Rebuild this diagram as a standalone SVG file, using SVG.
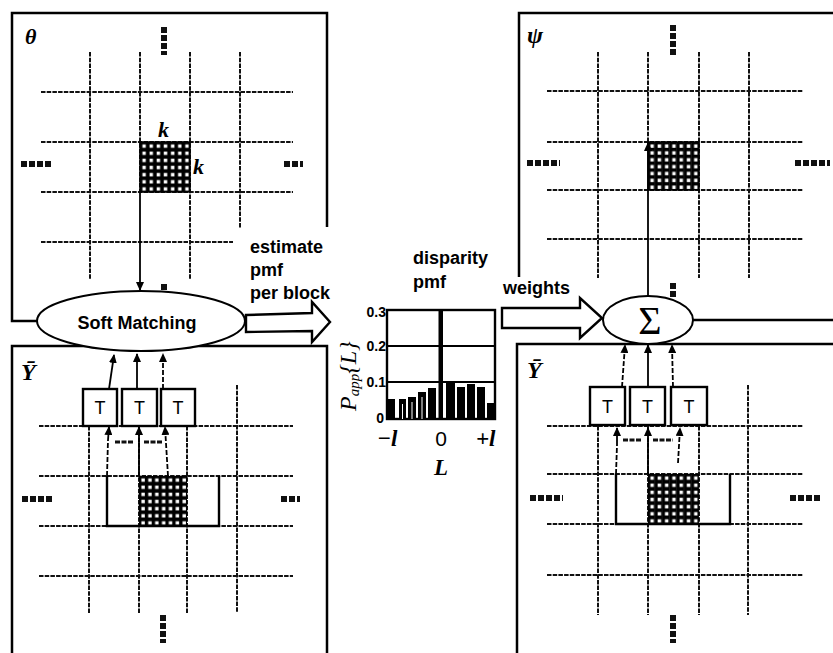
<svg xmlns="http://www.w3.org/2000/svg" width="833" height="653" viewBox="0 0 833 653">
<style>
.frame{fill:none;stroke:#000;stroke-width:2.5}
.g{stroke:#111;stroke-width:2;stroke-dasharray:4.5 1.2;fill:none}
.dots{stroke:#111;stroke-width:6;stroke-dasharray:6 2;fill:none}
.lbl{font-family:"Liberation Sans",Arial,sans-serif;font-weight:bold;font-size:18px;fill:#000}
.math{font-family:"Liberation Serif","Times New Roman",serif;font-style:italic;font-weight:bold;fill:#000}
.box{fill:#fff;stroke:#000;stroke-width:2.4}
.tt{font-family:"Liberation Sans",Arial,sans-serif;font-size:18px;fill:#000;text-anchor:middle}
.arr{stroke:#000;stroke-width:1.8;fill:none;marker-end:url(#ah)}
.arrd{stroke:#000;stroke-width:1.8;fill:none;stroke-dasharray:5 2;marker-end:url(#ah)}
.hatch{fill:url(#hp);stroke:#000;stroke-width:1.5}
.tick{font-family:"Liberation Sans",Arial,sans-serif;font-weight:bold;font-size:14px;fill:#000;text-anchor:end}
.ax{font-family:"Liberation Serif","Times New Roman",serif;font-style:italic;font-weight:bold;font-size:23px;fill:#000}
</style>
<defs>
<marker id="ah" markerWidth="9" markerHeight="8" refX="8" refY="4" orient="auto" markerUnits="userSpaceOnUse">
<path d="M0,0 L9,4 L0,8 z" fill="#000"/>
</marker>
<pattern id="hp" patternUnits="objectBoundingBox" width="0.142857" height="0.142857" patternContentUnits="userSpaceOnUse">
<rect x="0" y="0" width="7.2" height="7.2" fill="#000"/>
<rect x="2.4" y="2.4" width="3.4" height="3.4" fill="#fff"/>
</pattern>
</defs>
<rect x="0" y="0" width="833" height="653" fill="#fff"/>

<!-- Top-left panel: theta -->
<g id="panel-theta">
<path class="frame" d="M42,321 L12,321 L12,13 L327,13 L327,227"/>
<line class="g" x1="90" y1="52" x2="90" y2="280"/>
<line class="g" x1="140" y1="52" x2="140" y2="192"/>
<line class="g" x1="190" y1="52" x2="190" y2="280"/>
<line class="g" x1="240" y1="52" x2="240" y2="228"/>
<line class="g" x1="41" y1="92" x2="293" y2="92"/>
<line class="g" x1="41" y1="142" x2="293" y2="142"/>
<line class="g" x1="41" y1="192" x2="293" y2="192"/>
<line class="g" x1="41" y1="242" x2="233" y2="242"/>
<rect class="hatch" x="140" y="142" width="50" height="50"/>
<line class="dots" x1="164" y1="27" x2="164" y2="55"/>
<line class="dots" x1="21" y1="164" x2="51" y2="164"/>
<line class="dots" x1="284" y1="164" x2="303" y2="164"/>
<line class="dots" x1="164" y1="284" x2="164" y2="293"/>
<text class="math" x="25" y="44" font-size="22">θ</text>
<text class="math" x="158" y="137" font-size="22">k</text>
<text class="math" x="193" y="174" font-size="22">k</text>
</g>

<!-- Top-right panel: psi -->
<g id="panel-psi">
<path class="frame" d="M519,277 L519,13 L833,13"/>
<line class="frame" x1="693" y1="320" x2="833" y2="320"/>
<line class="g" x1="598" y1="52" x2="598" y2="278"/>
<line class="g" x1="648" y1="52" x2="648" y2="142"/>
<line class="g" x1="699" y1="52" x2="699" y2="278"/>
<line class="g" x1="749" y1="52" x2="749" y2="278"/>
<line class="g" x1="547" y1="91" x2="803" y2="91"/>
<line class="g" x1="547" y1="142" x2="803" y2="142"/>
<line class="g" x1="547" y1="190" x2="803" y2="190"/>
<line class="g" x1="547" y1="239" x2="803" y2="239"/>
<rect class="hatch" x="648" y="142" width="51" height="48"/>
<line class="dots" x1="673" y1="25" x2="673" y2="55"/>
<line class="dots" x1="527" y1="163" x2="560" y2="163"/>
<line class="dots" x1="795" y1="163" x2="830" y2="163"/>
<line class="dots" x1="673" y1="283" x2="673" y2="299"/>
<text class="math" x="527" y="43" font-size="24">ψ</text>
</g>

<!-- Bottom-left panel: Y -->
<g id="panel-y-left">
<path class="frame" d="M12,653 L12,346 L327,346 L327,653"/>
<line class="g" x1="89" y1="426" x2="89" y2="613"/>
<line class="g" x1="139" y1="426" x2="139" y2="613"/>
<line class="g" x1="187" y1="426" x2="187" y2="613"/>
<line class="g" x1="237" y1="385" x2="237" y2="613"/>
<line class="g" x1="39" y1="426" x2="293" y2="426"/>
<line class="g" x1="39" y1="476" x2="293" y2="476"/>
<line class="g" x1="39" y1="526" x2="293" y2="526"/>
<line class="g" x1="39" y1="576" x2="293" y2="576"/>
<rect x="139" y="476" width="48" height="50" fill="url(#hp)"/>
<path d="M107,476 L107,526 L219,526 L219,476" fill="none" stroke="#000" stroke-width="2.4"/>
<line class="dots" x1="22" y1="499" x2="53" y2="499"/>
<line class="dots" x1="281" y1="499" x2="300" y2="499"/>
<line class="dots" x1="163" y1="615" x2="163" y2="643"/>
<line x1="115" y1="442" x2="133" y2="442" stroke="#111" stroke-width="3" stroke-dasharray="5 1.5"/>
<line x1="144" y1="442" x2="163" y2="442" stroke="#111" stroke-width="3" stroke-dasharray="5 1.5"/>
<text class="math" x="21" y="380" font-size="24">Ȳ</text>
</g>

<!-- Bottom-right panel: Y -->
<g id="panel-y-right">
<path class="frame" d="M517,653 L517,344 L833,344"/>
<line class="g" x1="598" y1="426" x2="598" y2="615"/>
<line class="g" x1="648" y1="426" x2="648" y2="615"/>
<line class="g" x1="699" y1="426" x2="699" y2="615"/>
<line class="g" x1="748" y1="385" x2="748" y2="615"/>
<line class="g" x1="547" y1="426" x2="803" y2="426"/>
<line class="g" x1="547" y1="474" x2="803" y2="474"/>
<line class="g" x1="547" y1="524" x2="803" y2="524"/>
<line class="g" x1="547" y1="575" x2="803" y2="575"/>
<rect x="648" y="474" width="51" height="50" fill="url(#hp)"/>
<path d="M616,474 L616,524 L730,524 L730,474" fill="none" stroke="#000" stroke-width="2.4"/>
<line class="dots" x1="530" y1="498" x2="563" y2="498"/>
<line class="dots" x1="790" y1="498" x2="822" y2="498"/>
<line class="dots" x1="673" y1="615" x2="673" y2="643"/>
<line x1="623" y1="440" x2="642" y2="440" stroke="#111" stroke-width="3" stroke-dasharray="5 1.5"/>
<line x1="653" y1="440" x2="673" y2="440" stroke="#111" stroke-width="3" stroke-dasharray="5 1.5"/>
<text class="math" x="527" y="378" font-size="24">Ȳ</text>
</g>

<!-- Connectors -->
<g id="connectors">
<line class="arr" x1="140" y1="192" x2="140" y2="290"/>
<line class="arr" x1="109" y1="389" x2="114" y2="355"/>
<line class="arr" x1="137" y1="389" x2="137" y2="354"/>
<line class="arrd" x1="163" y1="389" x2="163" y2="354"/>
<line x1="107" y1="476" x2="108" y2="440" stroke="#000" stroke-width="1.8" stroke-dasharray="5 2"/>
<line class="arr" x1="108" y1="440" x2="109" y2="427"/>
<line class="arr" x1="139" y1="476" x2="139" y2="427"/>
<line class="arrd" x1="168" y1="476" x2="165" y2="427"/>
<line class="arr" x1="648" y1="296" x2="648" y2="143"/>
<line class="arrd" x1="622" y1="387" x2="625" y2="345"/>
<line class="arr" x1="648" y1="387" x2="648" y2="345"/>
<line class="arrd" x1="673" y1="387" x2="672" y2="345"/>
<line x1="616" y1="474" x2="617" y2="445" stroke="#000" stroke-width="1.8" stroke-dasharray="5 2"/>
<line class="arr" x1="617" y1="445" x2="617" y2="428"/>
<line class="arr" x1="648" y1="474" x2="648" y2="428"/>
<line class="arrd" x1="678" y1="463" x2="680" y2="428"/>
<path d="M246,315 L312,313 L312,302 L330,322 L312,342 L312,331 L246,332 Z" fill="#fff" stroke="#000" stroke-width="2.4"/>
<path d="M502,308 L580,308 L580,298 L602,318 L580,338 L580,328 L502,328 Z" fill="#fff" stroke="#000" stroke-width="2.4"/>
</g>

<!-- Soft matching node -->
<g id="soft-matching">
<ellipse cx="141" cy="321" rx="104" ry="30" fill="#fff" stroke="#000" stroke-width="2"/>
<text class="lbl" x="137" y="329" font-size="16.5" text-anchor="middle">Soft Matching</text>
</g>

<!-- Sum node -->
<g id="sum">
<ellipse cx="648" cy="320" rx="45" ry="24" fill="#fff" stroke="#000" stroke-width="2"/>
<text x="650" y="334" font-family="Liberation Serif,'Times New Roman',serif" font-size="40" text-anchor="middle">Σ</text>
</g>

<!-- T boxes -->
<g id="t-left-1"><rect class="box" x="83" y="389" width="34" height="37"/><text class="tt" x="100" y="414">T</text></g>
<g id="t-left-2"><rect class="box" x="122" y="389" width="35" height="37"/><text class="tt" x="139.5" y="414">T</text></g>
<g id="t-left-3"><rect class="box" x="161" y="389" width="34" height="37"/><text class="tt" x="178" y="414">T</text></g>
<g id="t-right-1"><rect class="box" x="590" y="387" width="35" height="38"/><text class="tt" x="607.5" y="413">T</text></g>
<g id="t-right-2"><rect class="box" x="630" y="387" width="35" height="38"/><text class="tt" x="647.5" y="413">T</text></g>
<g id="t-right-3"><rect class="box" x="671" y="387" width="36" height="38"/><text class="tt" x="689" y="413">T</text></g>

<!-- Labels -->
<g id="label-estimate">
<text class="lbl" x="250" y="253">estimate</text>
<text class="lbl" x="250" y="276">pmf</text>
<text class="lbl" x="250" y="299">per block</text>
</g>
<g id="label-disparity">
<text class="lbl" x="413" y="264">disparity</text>
<text class="lbl" x="413" y="288">pmf</text>
</g>
<g id="label-weights">
<text class="lbl" x="503" y="294">weights</text>
</g>

<!-- PMF chart -->
<g id="pmf-chart">
<rect x="387" y="310" width="108" height="109" fill="#fff" stroke="#000" stroke-width="2.4"/>
<line x1="387" y1="346" x2="495" y2="346" stroke="#000" stroke-width="1.8"/>
<line x1="387" y1="382" x2="495" y2="382" stroke="#000" stroke-width="1.8"/>
<g fill="#000">
<rect x="388" y="399" width="7" height="20"/>
<rect x="399" y="399" width="7" height="20"/>
<rect x="408" y="397" width="8" height="22"/>
<rect x="418" y="392" width="8" height="27"/>
<rect x="428" y="388" width="8" height="31"/>
<rect x="438.5" y="310" width="4.5" height="109"/>
<rect x="446" y="383" width="9" height="36"/>
<rect x="457" y="387" width="8" height="32"/>
<rect x="467" y="384" width="8" height="35"/>
<rect x="477" y="387" width="8" height="32"/>
<rect x="487" y="403" width="8" height="16"/>
</g>
<g fill="#fff">
<rect x="402" y="404" width="1" height="15"/>
<rect x="411.5" y="402" width="1" height="17"/>
<rect x="421.5" y="397" width="1" height="22"/>
</g>
<text class="tick" x="386" y="317">0.3</text>
<text class="tick" x="386" y="351">0.2</text>
<text class="tick" x="386" y="387">0.1</text>
<text class="tick" x="384" y="423">0</text>
<text transform="translate(356,411) rotate(-90)" font-family="Liberation Serif,'Times New Roman',serif" font-style="italic" font-size="24">P<tspan font-size="15" dy="3">app</tspan><tspan dy="-3">{L}</tspan></text>
<text class="ax" x="377" y="446">−l</text>
<text x="441" y="446" font-family="Liberation Sans,Arial,sans-serif" font-size="21" text-anchor="middle">0</text>
<text class="ax" x="476" y="446">+l</text>
<text class="ax" x="441" y="475" font-size="24" text-anchor="middle">L</text>
</g>
</svg>
